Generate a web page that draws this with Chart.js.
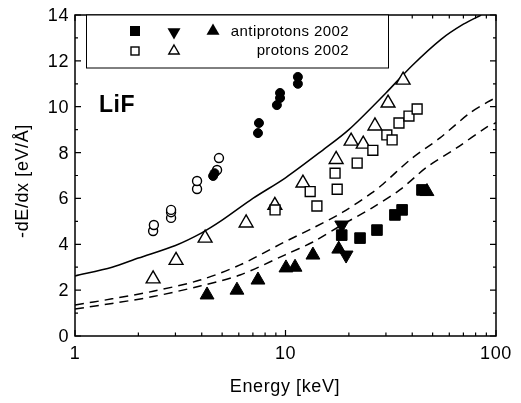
<!DOCTYPE html>
<html>
<head>
<meta charset="utf-8">
<title>LiF stopping</title>
<script src="https://cdn.jsdelivr.net/npm/chart.js@4.4.0/dist/chart.umd.min.js"></script>
<style>
    html, body { margin: 0; padding: 0; background: #fff; }
    #wrap { width: 521px; height: 403px; }
</style>
</head>
<body>
<div id="wrap"><canvas id="chart" width="521" height="403"></canvas></div>
<script>
/**
 * 数据 (Energy [keV], -dE/dx [eV/Å])
 */
// antiprotons 2002
var apSquareE = [18.5, 22.6, 27.2, 33.1, 35.8, 44.5];
var apSquareV = [4.4, 4.27, 4.62, 5.28, 5.5, 6.37];
var apDownE = [18.5, 19.4];
var apDownV = [4.84, 3.53];
var apUpE = [4.24, 5.88, 7.4, 10.05, 11.1, 13.5, 17.9, 47];
var apUpV = [1.79, 2.0, 2.44, 2.97, 3.0, 3.53, 3.79, 6.3];

// protons 2002
var pSquareE = [8.92, 13.1, 14.1, 17.2, 17.6, 21.9, 26.0, 30.3, 32.1, 34.6, 38.6, 42.2];
var pSquareV = [5.5, 6.3, 5.67, 7.1, 6.4, 7.54, 8.1, 8.77, 8.55, 9.29, 9.59, 9.9];
var pUpE = [2.35, 3.02, 4.15, 6.5, 8.9, 12.1, 17.4, 20.5, 23.4, 26.6, 30.7, 36.2];
var pUpV = [2.49, 3.3, 4.27, 4.93, 5.7, 6.67, 7.7, 8.5, 8.37, 9.16, 10.16, 11.16];

// circles
var openCircleE = [2.35, 2.37, 2.86, 2.86, 2.86, 3.8, 3.8, 4.73, 4.83];
var openCircleV = [4.58, 4.84, 5.15, 5.4, 5.5, 6.41, 6.76, 7.24, 7.76];
var fullCircleE = [4.53, 4.6, 7.4, 7.48, 9.1, 9.42, 9.42, 11.45, 11.45];
var fullCircleV = [6.98, 7.1, 8.85, 9.29, 10.07, 10.38, 10.6, 11.0, 11.3];

// curves
var solidE = [1, 1.5, 2, 3, 4, 5, 7, 10, 15, 20, 30, 40, 55, 70, 85];
var solidV = [2.62, 3.0, 3.4, 3.95, 4.5, 5.05, 6.0, 6.9, 8.1, 9.0, 10.6, 11.8, 12.95, 13.6, 14.0];
var dashUpE = [1, 1.5, 2.35, 3.93, 6.08, 9.7, 13.5, 18.7, 25.7, 29.1, 39, 54, 75, 91, 100];
var dashUpV = [1.35, 1.62, 1.95, 2.44, 3.1, 4.06, 4.71, 5.4, 6.24, 6.63, 7.68, 8.63, 9.72, 10.2, 10.4];
var dashLowE = [1, 1.5, 2.35, 3.93, 6.08, 9.9, 13.5, 18.5, 25.7, 34.9, 47, 65, 90, 100];
var dashLowV = [1.18, 1.42, 1.72, 2.18, 2.66, 3.53, 4.1, 4.84, 5.58, 6.37, 7.37, 8.2, 9.1, 9.3];

// 刻度
var yTicks = [0, 2, 4, 6, 8, 10, 12, 14];
var xTicks = [1, 10, 100];

var FONT = '"Liberation Sans", Arial, sans-serif';

function pts(xs, ys) {
    return xs.map(function (x, i) { return {x: x, y: ys[i]}; });
}

function curve(xs, ys, dash) {
    return {
        data: pts(xs, ys),
        showLine: true,
        borderColor: '#000',
        borderWidth: 1.5,
        borderDash: dash || [],
        pointRadius: 0,
        fill: false,
        tension: 0.3
    };
}

function marks(xs, ys, style, radius, filled, rotation) {
    return {
        data: pts(xs, ys),
        showLine: false,
        pointStyle: style,
        pointRadius: radius,
        pointRotation: rotation || 0,
        pointBackgroundColor: filled ? '#000' : '#fff',
        pointBorderColor: '#000',
        pointBorderWidth: filled ? 1 : 1.4
    };
}

/**
 * 坐标框, 刻度, 文字, 图例
 */
var framePlugin = {
    id: 'frame',
    afterDraw: function (chart) {
        var ctx = chart.ctx;
        var a = chart.chartArea;
        var xs = chart.scales.x, ys = chart.scales.y;
        ctx.save();
        ctx.strokeStyle = '#000';
        ctx.fillStyle = '#000';
        ctx.lineWidth = 1.5;
        ctx.strokeRect(a.left, a.top, a.right - a.left, a.bottom - a.top);

        // y ticks
        ctx.lineWidth = 1.2;
        ctx.beginPath();
        for (var v = 0; v <= 14; v++) {
            var py = ys.getPixelForValue(v);
            var len = v % 2 === 0 ? 6 : 3;
            ctx.moveTo(a.left, py); ctx.lineTo(a.left + len, py);
            ctx.moveTo(a.right, py); ctx.lineTo(a.right - len, py);
        }
        // x ticks
        [1, 10].forEach(function (dec) {
            for (var k = 1; k <= 10; k++) {
                var px = xs.getPixelForValue(dec * k);
                var l = (k === 1 || k === 10) ? 6 : 3.5;
                ctx.moveTo(px, a.bottom); ctx.lineTo(px, a.bottom - l);
                ctx.moveTo(px, a.top); ctx.lineTo(px, a.top + l);
            }
        });
        ctx.stroke();

        // tick labels
        ctx.font = '18px ' + FONT;
        ctx.letterSpacing = '0.6px';
        ctx.textAlign = 'right';
        ctx.textBaseline = 'middle';
        yTicks.forEach(function (t) {
            ctx.fillText(String(t), a.left - 6, ys.getPixelForValue(t) + 1);
        });
        ctx.textAlign = 'center';
        xTicks.forEach(function (t) {
            ctx.fillText(String(t), xs.getPixelForValue(t), a.bottom + 18);
        });

        // axis titles
        ctx.fillText('Energy [keV]', 285, 387);
        ctx.save();
        ctx.translate(23, 181);
        ctx.rotate(-Math.PI / 2);
        ctx.fillText('-dE/dx [eV/\u00C5]', 0, 0);
        ctx.restore();

        // LiF
        ctx.font = 'bold 23px ' + FONT;
        ctx.letterSpacing = '0.5px';
        ctx.textAlign = 'left';
        ctx.fillText('LiF', 99, 106);

        // legend box
        ctx.letterSpacing = '0.4px';
        ctx.fillStyle = '#fff';
        ctx.fillRect(86, a.top, 302, 53);
        ctx.lineWidth = 1;
        ctx.strokeStyle = '#000';
        ctx.strokeRect(86.5, a.top, 302, 53);
        ctx.fillStyle = '#000';

        function tri(x, y, r, down, filled) {
            var s = down ? -1 : 1;
            ctx.beginPath();
            ctx.moveTo(x, y - s * r);
            ctx.lineTo(x + r * 0.866, y + s * r * 0.5);
            ctx.lineTo(x - r * 0.866, y + s * r * 0.5);
            ctx.closePath();
            if (filled) { ctx.fill(); } else { ctx.lineWidth = 1.4; ctx.stroke(); }
        }
        ctx.fillRect(130, 26, 10, 10);
        tri(174, 32, 7.5, true, true);
        tri(213, 31, 7.5, false, true);
        ctx.lineWidth = 1.4;
        ctx.strokeRect(131, 47, 8, 8);
        tri(174, 51, 6, false, false);

        ctx.font = '15px ' + FONT;
        ctx.textAlign = 'right';
        ctx.fillText('antiprotons 2002', 349, 32);
        ctx.fillText('protons 2002', 349, 51);
        ctx.restore();
    }
};

var ctx = document.getElementById('chart').getContext('2d');
window.myChart = new Chart(ctx, {
    type: 'scatter',
    data: {
        datasets: [
            marks(apSquareE, apSquareV, 'rect', 7.5, true),
            marks(apDownE, apDownV, 'triangle', 8, true, 180),
            marks(apUpE, apUpV, 'triangle', 8, true),
            marks(pSquareE, pSquareV, 'rect', 7, false),
            marks(pUpE, pUpV, 'triangle', 8, false),
            marks(fullCircleE, fullCircleV, 'circle', 4.5, true),
            marks(openCircleE, openCircleV, 'circle', 4.5, false),
            curve(solidE, solidV),
            curve(dashUpE, dashUpV, [9, 6]),
            curve(dashLowE, dashLowV, [9, 6])
        ]
    },
    options: {
        responsive: false,
        animation: false,
        layout: {
            padding: {left: 75, right: 25, top: 15, bottom: 67}
        },
        scales: {
            x: {type: 'logarithmic', min: 1, max: 100, display: false},
            y: {type: 'linear', min: 0, max: 14, display: false}
        },
        plugins: {
            legend: {display: false},
            tooltip: {enabled: false}
        }
    },
    plugins: [framePlugin]
});
</script>
</body>
</html>
